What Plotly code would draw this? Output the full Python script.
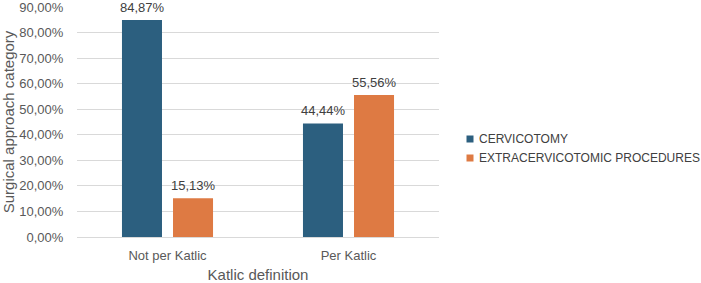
import plotly.graph_objects as go

categories = ["Not per Katlic", "Per Katlic"]
cervicotomy = [84.87, 44.44]
extracervicotomic = [15.13, 55.56]
series_names = ["CERVICOTOMY", "EXTRACERVICOTOMIC PROCEDURES"]
tick_vals = [0, 10, 20, 30, 40, 50, 60, 70, 80, 90]
tick_text = ["0,00%", "10,00%", "20,00%", "30,00%", "40,00%", "50,00%",
             "60,00%", "70,00%", "80,00%", "90,00%"]

colors = ["#2C5F7F", "#DE7A43"]
FONT = "Liberation Sans, Arial, sans-serif"
W, H = 701, 283
L, R, T, B = 77, 262, 7, 46

def fmt(v):
    return f"{v:.2f}".replace(".", ",") + "%"

fig = go.Figure()
series = [cervicotomy, extracervicotomic]
shifts = [-25.5, 25.5]
for name, vals, col, sh in zip(series_names, series, colors, shifts):
    fig.add_trace(go.Bar(
        x=categories, y=vals, name=name,
        marker=dict(color=col, line=dict(width=0)),
        showlegend=False,
    ))
    for c, v in zip(categories, vals):
        fig.add_annotation(
            x=c, y=v, xref="x", yref="y", text=fmt(v), showarrow=False,
            xshift=sh, yshift=3, yanchor="bottom", xanchor="center",
            font=dict(size=13, color="#404040", family=FONT),
        )

# custom legend (paper coordinates)
pw = W - L - R
ph = H - T - B
leg_y = [139, 158]
for name, col, py in zip(series_names, colors, leg_y):
    cx = (470 - L) / pw
    cy = (H - B - py) / ph
    hw = 3.5 / pw
    hh = 3.5 / ph
    fig.add_shape(type="rect", xref="paper", yref="paper",
                  x0=cx - hw, x1=cx + hw, y0=cy - hh, y1=cy + hh,
                  fillcolor=col, line=dict(width=0))
    fig.add_annotation(x=(477 - L) / pw, y=cy, xref="paper", yref="paper",
                       text=name, showarrow=False, xanchor="left", yanchor="middle",
                       font=dict(size=12, color="#404040", family=FONT))

fig.update_layout(
    width=W, height=H,
    margin=dict(l=L, r=R, t=T, b=B),
    paper_bgcolor="white", plot_bgcolor="white",
    font=dict(family=FONT, color="#595959", size=13),
    barmode="group", bargap=0.436, bargroupgap=0.216,
    showlegend=False,
)
fig.update_xaxes(
    showgrid=False, showline=False, zeroline=False, automargin=False,
    ticks="outside", ticklen=6, tickcolor="rgba(0,0,0,0)",
    tickfont=dict(size=13, color="#595959"),
    title=dict(text="Katlic definition", font=dict(size=15, color="#595959"), standoff=12),
)
fig.update_yaxes(
    range=[0, 90], tickvals=tick_vals, ticktext=tick_text, automargin=False,
    ticklabeloverflow="allow",
    showgrid=True, gridcolor="#D9D9D9", gridwidth=1,
    zeroline=True, zerolinecolor="#D9D9D9", zerolinewidth=1,
    showline=False, ticks="outside", ticklen=10, tickcolor="rgba(0,0,0,0)",
    tickfont=dict(size=13, color="#595959"),
    title=dict(text="Surgical approach category", font=dict(size=15, color="#595959"), standoff=4),
)

fig.write_html("out.html")
